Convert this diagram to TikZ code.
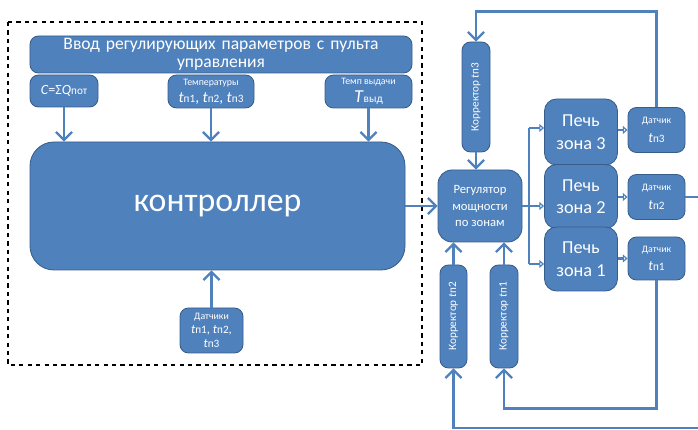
\documentclass[tikz,border=0pt]{standalone}
\usepackage{fontspec}
\setmainfont{Carlito}
\usetikzlibrary{arrows.meta, positioning, calc}
\definecolor{boxblue}{HTML}{4F81BD}
\definecolor{boxedge}{HTML}{385D8A}
\newcommand{\tpn}[1]{\textit{t}{\footnotesize п#1}}
\newcommand{\fs}[2]{\fontsize{#1}{#2}\selectfont}

\begin{document}
\begin{tikzpicture}[
    box/.style={draw=boxedge, fill=boxblue, rounded corners=6pt, text=white, align=center, inner sep=1pt, line width=0.6pt},
    arrow/.style={-{Straight Barb[length=2mm, width=4mm]}, line width=1.6pt, color=boxblue},
    small/.style={-{Triangle[open, length=1.2mm, width=2mm]}, line width=1.6pt, color=boxblue},
    line/.style={line width=1.6pt, color=boxblue}
]
\useasboundingbox (0,0) rectangle (17.45,-10.75);

% === CONTROL PANEL ===
\draw[dashed, line width=0.8pt] (0.2,-0.55) rectangle (10.55,-9.125);
\node[box, minimum width=9.55cm, minimum height=0.925cm, text width=9.3cm, font=\fs{12.5}{13}] (input) at (5.525,-1.3625) {Ввод регулирующих параметров с пульта\\управления};

\node[box, minimum width=1.7cm, minimum height=0.8cm, font=\fs{10}{12}] (sumq) at (1.6,-2.275) {\textit{C}=Σ\textit{Q}{\footnotesize пот}};
\node[box, minimum width=2.15cm, minimum height=0.825cm, font=\fs{11}{12}] (temps) at (5.275,-2.2875) {{\fs{7}{8}Температуры}\\\tpn{1}, \tpn{2}, \tpn{3}};
\node[box, minimum width=2.175cm, minimum height=0.825cm, font=\fs{13}{13}] (tempo) at (9.2125,-2.2875) {{\fs{7}{8}Темп выдачи}\\\textit{T}{\footnotesize выд}};

\node[box, rounded corners=0.6cm, minimum width=9.375cm, minimum height=3.2cm, font=\fs{24}{30}] (ctrl) at (5.4375,-5.15) {контроллер};

\node[box, minimum width=1.575cm, minimum height=1.125cm, font=\fs{9}{10}] (sensors) at (5.2875,-8.2625) {{\fs{7}{8}Датчики}\\\tpn{1}, \tpn{2},\\\tpn{3}};

% === REGULATOR AND CORRECTORS ===
\node[box, rounded corners=0.35cm, minimum width=2.1cm, minimum height=1.8cm, font=\fs{9}{12}] (reg) at (12.0,-5.15) {Регулятор\\мощности\\по зонам};

\node[box, minimum width=0.7cm, minimum height=2.75cm, font=\fs{8}{9}] (kor3) at (11.9,-2.425) {\rotatebox{90}{Корректор \tpn{3}}};
\node[box, minimum width=0.675cm, minimum height=2.575cm, font=\fs{8}{9}] (kor2) at (11.3375,-7.9125) {\rotatebox{90}{Корректор \tpn{2}}};
\node[box, minimum width=0.7cm, minimum height=2.575cm, font=\fs{8}{9}] (kor1) at (12.6,-7.9125) {\rotatebox{90}{Корректор \tpn{1}}};

% === FURNACE ZONES ===
\node[box, rounded corners=0.3cm, minimum width=1.825cm, minimum height=1.65cm, font=\fs{13}{16}] (zone3) at (14.525,-3.3) {Печь\\зона 3};
\node[box, rounded corners=0.3cm, minimum width=1.825cm, minimum height=1.6cm, font=\fs{13}{16}] (zone2) at (14.525,-4.9125) {Печь\\зона 2};
\node[box, rounded corners=0.3cm, minimum width=1.825cm, minimum height=1.6cm, font=\fs{13}{16}] (zone1) at (14.525,-6.475) {Печь\\зона 1};

\node[box, minimum width=1.425cm, minimum height=1.125cm, font=\fs{10}{13}] (det3) at (16.4125,-3.25) {{\fs{7}{8}Датчик}\\\tpn{3}};
\node[box, minimum width=1.425cm, minimum height=1.125cm, font=\fs{10}{13}] (det2) at (16.4125,-4.925) {{\fs{7}{8}Датчик}\\\tpn{2}};
\node[box, minimum width=1.425cm, minimum height=1.075cm, font=\fs{10}{13}] (det1) at (16.4125,-6.4625) {{\fs{7}{8}Датчик}\\\tpn{1}};

\coordinate (bus3) at (13.225,-3.2);
\coordinate (bus1) at (13.225,-6.6);
\coordinate (out2) at (17.45,-4.925);
\coordinate (in2) at (17.45,-10.7);

% === ARROWS ===
% Panel to controller
\draw[arrow] (sumq.south) -- (sumq.south |- ctrl.north);
\draw[arrow] (temps.south) -- (temps.south |- ctrl.north);
\draw[arrow] (tempo.south) -- (tempo.south |- ctrl.north);
\draw[arrow] (sensors.north) -- (sensors.north |- ctrl.south);

% Controller to regulator
\draw[arrow] (ctrl.east) -- (reg.west);
\draw[arrow] (kor3.south) -- (kor3.south |- reg.north);
\draw[arrow] (kor2.north) -- (kor2.north |- reg.south);
\draw[arrow] (kor1.north) -- (kor1.north |- reg.south);

% Regulator to zones
\draw[line] (reg.east) -- (reg.east -| bus3);
\draw[line] (bus3) -- (bus1);
\draw[small] (bus3) -- (bus3 -| zone3.west);
\draw[small] (reg.east -| bus3) -- (reg.east -| zone2.west);
\draw[small] (bus1) -- (bus1 -| zone1.west);

% Zones to sensors
\draw[small] (zone3.east |- det3.west) -- (det3.west);
\draw[small] (zone2.east |- det2.west) -- (det2.west);
\draw[small] (zone1.east |- det1.west) -- (det1.west);

% Feedback loops
\draw[arrow] (det3.north) |- ([yshift=0.75cm]kor3.north) -- (kor3.north);
\draw[line] (det2.east) -- (out2);
\draw[arrow] (det1.south) |- ([yshift=-1cm]kor1.south) -- (kor1.south);
\draw[arrow] (in2) -| (kor2.south);

\end{tikzpicture}
\end{document}
